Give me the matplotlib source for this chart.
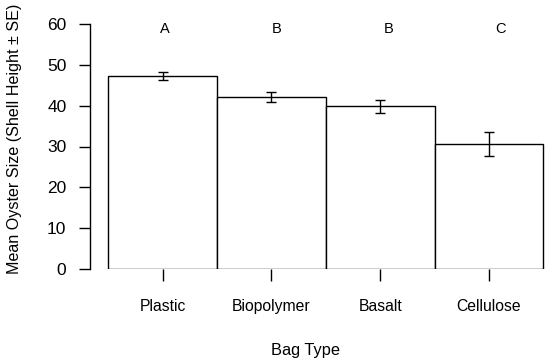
import matplotlib
matplotlib.use("Agg")
import matplotlib.pyplot as plt

# ---------------------------------------------------------------------------
# Data
# ---------------------------------------------------------------------------
bag_types = ["Plastic", "Biopolymer", "Basalt", "Cellulose"]
mean_height = [47.3, 42.1, 39.8, 30.6]
se_height = [0.9, 1.15, 1.55, 3.0]
group_letters = ["A", "B", "B", "C"]
letter_y = 58.8
y_ticks = [0, 10, 20, 30, 40, 50, 60]

plt.rcParams["font.family"] = ["Liberation Sans", "DejaVu Sans"]

fig = plt.figure(figsize=(5.5, 3.63), dpi=100)
ax = fig.add_axes([90 / 550, 94 / 363, 455 / 550, 245 / 363])

x = list(range(len(bag_types)))
ax.bar(x, mean_height, width=1.0, color="white", edgecolor="black", linewidth=1.0)
ax.errorbar(x, mean_height, yerr=se_height, fmt="none", ecolor="black",
            elinewidth=1.0, capsize=3.6, capthick=1.0)

# significance letters (slightly right of bar centres, as in the original)
for i, lab in enumerate(group_letters):
    ax.text(i + 0.02 + 0.03 * i, letter_y, lab, ha="center", va="center",
            fontsize=10.5, clip_on=False)

ax.set_xlim(-0.668, 3.515)
ax.set_ylim(0, 60)
ax.set_yticks(y_ticks)
ax.set_xticks(x)
ax.set_xticklabels(bag_types)

for s in ["top", "right", "bottom"]:
    ax.spines[s].set_visible(False)
ax.spines["left"].set_bounds(0, 60)
ax.spines["left"].set_linewidth(1.0)

ax.tick_params(axis="y", direction="out", length=8, width=1.0, pad=9, labelsize=12.5)
ax.tick_params(axis="x", direction="out", length=8.5, width=1.0, pad=13, labelsize=11.3)

ax.set_ylabel("Mean Oyster Size (Shell Height \u00b1 SE)", fontsize=11.6)
ax.yaxis.set_label_coords(-0.165, 0.531)
ax.set_xlabel("Bag Type", fontsize=11.8)
ax.xaxis.set_label_coords(0.474, -0.331)
ax.xaxis.label.set_va("center")
ax.yaxis.label.set_va("center")

fig.savefig("out.png", dpi=100)
